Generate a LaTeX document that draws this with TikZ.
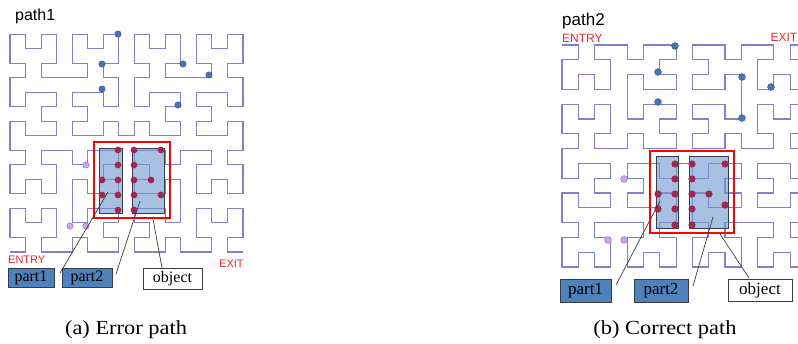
\documentclass[tikz,border=0pt]{standalone}
\usepackage{fontspec}
\setmainfont{Liberation Serif}
\newfontfamily\sansf{Liberation Sans}
\newfontfamily\capfont[FakeStretch=1.12]{Liberation Serif}
\usetikzlibrary{lindenmayersystems}
\pgfdeclarelindenmayersystem{Hilbert curve}{
  \rule{L -> +RF-LFL-FR+}
  \rule{R -> -LF+RFR+FL-}
}
\definecolor{mazec}{RGB}{128,128,204}
\definecolor{bdotc}{RGB}{74,118,176}
\definecolor{bdotl}{RGB}{45,75,125}
\definecolor{pdotc}{RGB}{205,165,235}
\definecolor{pdotl}{RGB}{140,100,180}
\definecolor{rdotc}{RGB}{160,40,80}
\definecolor{shadec}{RGB}{110,150,205}
\definecolor{boxc}{RGB}{79,129,189}
\definecolor{edgec}{RGB}{55,60,70}
\definecolor{linec}{RGB}{60,60,60}
\definecolor{labred}{RGB}{240,40,40}
\tikzset{
  maze/.style={draw=mazec, line width=1.1pt},
  bdot/.style={fill=bdotc, draw=bdotl, line width=0.4pt},
  pdot/.style={fill=pdotc, draw=pdotl, line width=0.4pt},
  rdot/.style={fill=rdotc},
  partrect/.style={fill=shadec, fill opacity=0.6, draw=edgec, line width=0.8pt},
  redrect/.style={draw=red, line width=1.8pt},
  partbox/.style={draw=edgec, fill=boxc, line width=0.8pt, inner sep=0pt, font=\fontsize{16}{18}\selectfont},
  objbox/.style={draw=edgec, fill=white, line width=0.8pt, inner sep=0pt, font=\fontsize{16}{18}\selectfont},
  conn/.style={draw=linec, line width=0.7pt},
  title/.style={anchor=base west, inner sep=0pt, font=\sansf\fontsize{16}{18}\selectfont},
  tag/.style={anchor=base west, inner sep=0pt, text=labred, font=\sansf\fontsize{11}{13}\selectfont},
  caption/.style={anchor=base, inner sep=0pt, font=\capfont\fontsize{20}{24}\selectfont}
}
\begin{document}
\begin{tikzpicture}[x=1pt,y=-1pt]
\useasboundingbox (0,0) rectangle (798,343);
\fill[white] (0,0) rectangle (798,343);
\begin{scope}
\clip (0,0) rectangle (798,343);
% mazes
\draw[maze, shift={(10,252)}, xscale=15.53, yscale=14.53]
  [lindenmayer system={Hilbert curve, axiom=L, order=4, step=1pt, angle=90}] lindenmayer system;
\draw[maze, shift={(562,45)}, xscale=16.3, yscale=-14.8]
  [lindenmayer system={Hilbert curve, axiom=L, order=4, step=1pt, angle=90}] lindenmayer system;

% ===== path1 =====
\foreach \p in {(118,34),(102,64),(183,64),(209,75),(102,89),(178,105)}
  \draw[bdot] \p circle[radius=3.2pt];
\foreach \p in {(86,165),(70,226),(86,226)}
  \draw[pdot] \p circle[radius=3.2pt];
\draw[partrect] (99,148) rectangle (122,213);
\draw[partrect] (132,148) rectangle (164,213);
\foreach \p in {(118,150),(118,165),(102,180),(118,180),(102,195),(118,195),(118,210),
                (134,150),(161,150),(134,165),(134,180),(151,180),(134,195),(161,195),(134,210)}
  \fill[rdot] \p circle[radius=3.4pt];
\draw[redrect] (94,142) rectangle (170,218);

% ===== path2 =====
\foreach \p in {(675,46),(658,72),(658,102),(742,77),(742,118),(771,87)}
  \draw[bdot] \p circle[radius=3.4pt];
\foreach \p in {(624,179),(608,240),(624,240)}
  \draw[pdot] \p circle[radius=3.4pt];
\draw[partrect] (656,156) rectangle (678,228);
\draw[partrect] (689,156) rectangle (728,228);
\foreach \p in {(675,164),(675,179),(658,194),(675,194),(658,209),(675,209),(675,225),
                (692,164),(725,164),(692,179),(692,194),(709,194),(692,209),(725,205),(692,225)}
  \fill[rdot] \p circle[radius=3.6pt];
\draw[redrect] (650,151) rectangle (734,233);
\end{scope}

% titles and tags
\node[title] (t1) at (15,20.5) {path1};
\node[title, font=\sansf\fontsize{17}{19}\selectfont] (t2) at (562,25) {path2};
\node[tag] (en1) at (8,263.5) {ENTRY};
\node[tag] (ex1) at (219,267) {EXIT};
\node[tag, font=\sansf\fontsize{12}{14}\selectfont] (en2) at (562,42) {ENTRY};
\node[tag, anchor=base east, font=\sansf\fontsize{12}{14}\selectfont] (ex2) at (797.5,41.5) {EXIT};

% label boxes path1
\node[partbox, minimum width=46pt, minimum height=19pt] (pa1) at (31,277.5) {part1};
\node[partbox, minimum width=50pt, minimum height=19pt] (pb1) at (87,277.5) {part2};
\node[objbox, minimum width=59pt, minimum height=21pt] (ob1) at (172.5,278.5) {object};
% label boxes path2
\node[partbox, minimum width=51pt, minimum height=23pt, font=\fontsize{17}{19}\selectfont] (pa2) at (585.5,290.5) {part1};
\node[partbox, minimum width=54pt, minimum height=23pt, font=\fontsize{17}{19}\selectfont] (pb2) at (661,290.5) {part2};
\node[objbox, minimum width=64pt, minimum height=22pt, font=\fontsize{17}{19}\selectfont] (ob2) at (760,290) {object};

% connector ends
\coordinate (a1s) at (60,273);   \coordinate (a1e) at (108,192);
\coordinate (b1s) at (116,274);  \coordinate (b1e) at (140,201);
\coordinate (o1s) at (162,268);  \coordinate (o1e) at (153,219);
\coordinate (a2s) at (616,285);  \coordinate (a2e) at (660,201);
\coordinate (b2s) at (693,286);  \coordinate (b2e) at (713,217);
\coordinate (o2s) at (749,278);  \coordinate (o2e) at (720,234);
\draw[conn] (a1s) -- (a1e);
\draw[conn] (b1s) -- (b1e);
\draw[conn] (o1s) -- (o1e);
\draw[conn] (a2s) -- (a2e);
\draw[conn] (b2s) -- (b2e);
\draw[conn] (o2s) -- (o2e);

% captions
\node[caption] (c1) at (126,334) {(a) Error path};
\node[caption] (c2) at (665,334) {(b) Correct path};
\end{tikzpicture}
\end{document}
